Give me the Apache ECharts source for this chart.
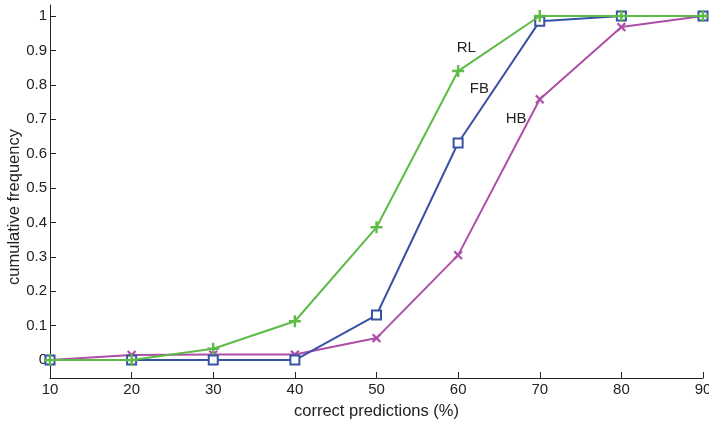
<!DOCTYPE html>
<html><head><meta charset="utf-8">
<script src="https://cdn.jsdelivr.net/npm/echarts@6/dist/echarts.min.js"></script>
<style>html,body{margin:0;padding:0;background:#fff}#c{width:709px;height:422px}</style>
</head><body><div id="c"></div>
<script>
const xValues = [10, 20, 30, 40, 50, 60, 70, 80, 90];
const rlValues = [0, 0, 0.033, 0.113, 0.386, 0.84, 1, 1, 1];
const fbValues = [0, 0, 0, 0, 0.131, 0.631, 0.985, 1, 1];
const hbValues = [0, 0.015, 0.016, 0.016, 0.064, 0.305, 0.758, 0.968, 1];
const yTicks = [0, 0.1, 0.2, 0.3, 0.4, 0.5, 0.6, 0.7, 0.8, 0.9, 1];
const yTickLabels = ['0', '0.1', '0.2', '0.3', '0.4', '0.5', '0.6', '0.7', '0.8', '0.9', '1'];
const seriesNames = ['RL', 'FB', 'HB'];
const labelPos = [[61, 0.907], [62.6, 0.788], [67.1, 0.70]];
const xTitle = 'correct predictions (%)';
const yTitle = 'cumulative frequency';

const font = 'Liberation Sans, Arial, Helvetica, sans-serif';
const colors = {RL: '#5dbb46', FB: '#3953a4', HB: '#ad4fa6'};
const plus = 'path://M4,0H6V4H10V6H6V10H4V6H0V4H4Z';
const pairs = v => xValues.map((x, i) => [x, v[i]]);
const nameLabel = (i) => ({
  symbol: 'circle', symbolSize: 1, itemStyle: {color: 'rgba(0,0,0,0)'},
  data: [{coord: labelPos[i],
    label: {show: true, formatter: seriesNames[i], color: '#222', fontSize: 15, fontFamily: font, position: 'inside'}}]
});

const chart = echarts.init(document.getElementById('c'), null, {renderer: 'canvas'});
chart.setOption({
  animation: false,
  backgroundColor: '#fff',
  grid: {left: 50, right: 6, top: 5, bottom: 44, containLabel: false, outerBoundsMode: 'none'},
  graphic: [{
    type: 'text', x: 6, y: 207, rotation: Math.PI / 2,
    style: {text: yTitle, fontSize: 16.5, fontFamily: font, fill: '#222', align: 'center', verticalAlign: 'top'}
  }],
  xAxis: {
    type: 'value', min: 10, max: 90, interval: 10,
    name: xTitle, nameLocation: 'middle', nameGap: 25,
    nameTextStyle: {fontSize: 16.5, color: '#222', fontFamily: font},
    axisLine: {show: true, onZero: false, lineStyle: {color: '#222', width: 1}},
    axisTick: {show: true, inside: true, length: 6, lineStyle: {color: '#222'}},
    axisLabel: {color: '#222', fontSize: 15, fontFamily: font, margin: 4},
    splitLine: {show: false}
  },
  yAxis: {
    type: 'value', min: -0.052, max: 1.032,
    axisLine: {show: true, onZero: false, lineStyle: {color: '#222', width: 1}},
    axisTick: {show: true, inside: true, length: 6, customValues: yTicks, lineStyle: {color: '#222'}},
    axisLabel: {color: '#222', fontSize: 15, fontFamily: font, margin: 3,
      customValues: yTicks,
      formatter: v => { const i = yTicks.findIndex(t => Math.abs(t - v) < 1e-9); return i >= 0 ? yTickLabels[i] : ''; }},
    splitLine: {show: false}
  },
  series: [
    {name: 'HB', type: 'line', data: pairs(hbValues), symbol: plus, symbolRotate: 45, symbolSize: 11,
     itemStyle: {color: colors.HB}, lineStyle: {color: colors.HB, width: 2}, z: 2, markPoint: nameLabel(2)},
    {name: 'FB', type: 'line', data: pairs(fbValues), symbol: 'emptyRect', symbolSize: 9,
     itemStyle: {color: colors.FB, borderWidth: 2}, lineStyle: {color: colors.FB, width: 2}, z: 3, markPoint: nameLabel(1)},
    {name: 'RL', type: 'line', data: pairs(rlValues), symbol: plus, symbolSize: 12,
     itemStyle: {color: colors.RL}, lineStyle: {color: colors.RL, width: 2}, z: 4, markPoint: nameLabel(0)}
  ]
});
</script></body></html>
